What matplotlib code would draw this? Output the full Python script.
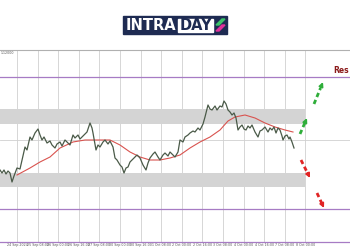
import numpy as np
import matplotlib.pyplot as plt
from matplotlib.patches import Rectangle, Polygon

# price path (bar index, close)
bar_idx = [0, 2, 4, 6, 8, 10, 12, 14, 17, 20, 22, 25, 27, 30, 32, 35, 38, 40, 42, 44,
           47, 50, 52, 55, 57, 60, 62, 65, 68, 70, 73, 75, 78, 80, 82, 85, 87, 90, 92, 93,
           96, 98, 100, 103, 105, 108, 110, 113, 115, 117, 120, 122, 124, 126, 128, 130,
           132, 135, 137, 140, 143, 146, 148, 150, 153, 155, 158, 160, 163, 165, 168, 170,
           173, 175, 178, 180, 183, 185, 188, 190, 193, 195, 198, 200, 203, 205, 208, 210,
           212, 215, 217, 220, 222, 224, 226, 228, 230, 232, 234, 236, 238, 240, 242, 244,
           246, 248, 250, 252, 255, 258, 260, 262, 265, 268, 270, 272, 274, 276, 278, 280,
           282, 283, 285, 287, 289, 290, 292, 294]
close = [1.1080, 1.1077, 1.1080, 1.1076, 1.1079, 1.1077, 1.1068, 1.1074, 1.1082, 1.1081,
         1.1090, 1.1103, 1.1100, 1.1113, 1.1110, 1.1117, 1.1121, 1.1115, 1.1110, 1.1113,
         1.1107, 1.1109, 1.1105, 1.1102, 1.1106, 1.1108, 1.1104, 1.1110, 1.1107, 1.1105,
         1.1115, 1.1112, 1.1115, 1.1111, 1.1113, 1.1116, 1.1118, 1.1127, 1.1122, 1.1117,
         1.1100, 1.1105, 1.1103, 1.1108, 1.1110, 1.1106, 1.1109, 1.1103, 1.1092, 1.1090,
         1.1085, 1.1083, 1.1077, 1.1082, 1.1083, 1.1088, 1.1090, 1.1093, 1.1095, 1.1092,
         1.1085, 1.1080, 1.1087, 1.1092, 1.1096, 1.1098, 1.1093, 1.1090, 1.1095, 1.1097,
         1.1094, 1.1098, 1.1095, 1.1093, 1.1098, 1.1110, 1.1108, 1.1113, 1.1115, 1.1117,
         1.1119, 1.1118, 1.1122, 1.1120, 1.1126, 1.1133, 1.1145, 1.1141, 1.1140, 1.1144,
         1.1140, 1.1144, 1.1143, 1.1149, 1.1146, 1.1140, 1.1138, 1.1135, 1.1137, 1.1132,
         1.1120, 1.1123, 1.1125, 1.1121, 1.1120, 1.1124, 1.1122, 1.1125, 1.1118, 1.1113,
         1.1119, 1.1120, 1.1123, 1.1118, 1.1122, 1.1120, 1.1123, 1.1117, 1.1122, 1.1120,
         1.1114, 1.1110, 1.1114, 1.1115, 1.1111, 1.1113, 1.1108, 1.1102]

# moving average
ma_idx = [17, 30, 40, 50, 60, 73, 85, 100, 110, 120, 130, 140, 150, 160, 170, 180,
          190, 200, 210, 220, 228, 235, 245, 255, 265, 275, 285, 293]
ma_val = [1.1075, 1.1082, 1.1088, 1.1093, 1.1102, 1.1108, 1.1110, 1.1110, 1.1110, 1.1105,
          1.1098, 1.1093, 1.1090, 1.1090, 1.1092, 1.1095, 1.1102, 1.1108, 1.1113, 1.1120,
          1.1129, 1.1133, 1.1135, 1.1132, 1.1127, 1.1123, 1.1120, 1.1118]

# levels and zones
resistance = 1.1173
support = 1.1041
bottom_level = 1.1008
upper_zone = (1.1126, 1.1141)
lower_zone = (1.1063, 1.1077)
grid_price = 1.1110

date_labels = ["24 Sep 2024", "25 Sep 08:00", "26 Sep 00:00", "26 Sep 16:00", "27 Sep 08:00",
               "30 Sep 00:00", "30 Sep 16:00", "1 Oct 08:00", "2 Oct 00:00", "2 Oct 16:00",
               "3 Oct 08:00", "4 Oct 00:00", "4 Oct 16:00", "7 Oct 08:00", "8 Oct 00:00"]
date_pos = [17 + 20.6 * k for k in range(15)]

# forecast arrows (start bar, start price, end bar, end price)
green_arrows = [(300, 1.1116, 307, 1.1132), (314, 1.1146, 323, 1.1168)]
red_arrows = [(301, 1.1090, 310, 1.1072), (317, 1.1057, 324, 1.1042)]


def dashed_arrow(ax, x0, y0, x1, y1, color):
    # dashed shaft + solid head
    xm = x0 + 0.72 * (x1 - x0)
    ym = y0 + 0.72 * (y1 - y0)
    ax.plot([x0, xm], [y0, ym], color=color, lw=2.0, ls=(0, (1.6, 1.1)),
            solid_capstyle='butt', zorder=5)
    ax.annotate('', xy=(x1, y1), xytext=(xm, ym),
                arrowprops=dict(arrowstyle='-|>', color=color, lw=1.3,
                                mutation_scale=6, shrinkA=0, shrinkB=0), zorder=5)


fig = plt.figure(figsize=(3.5, 2.5), dpi=100)
ax = fig.add_axes([0, 0.032, 1, 0.768])
ax.set_xlim(0, 350)
ax.set_ylim(bottom_level, 1.1200)

for x in date_pos:
    ax.axvline(x, color='#d0d0d0', lw=0.6, zorder=0)
ax.axhline(grid_price, color='#d0d0d0', lw=0.6, zorder=0)

ax.axhspan(upper_zone[0], upper_zone[1], xmin=0, xmax=305 / 350, color='#d4d4d4', lw=0, zorder=1)
ax.axhspan(lower_zone[0], lower_zone[1], xmin=0, xmax=305 / 350, color='#d4d4d4', lw=0, zorder=1)

ax.axhline(resistance, color='#a77bc4', lw=0.9, zorder=2)
ax.axhline(support, color='#a77bc4', lw=0.9, zorder=2)

ax.plot(ma_idx, ma_val, color='#d9534f', lw=0.8, zorder=3)
ax.plot(bar_idx, close, color='#4a5a48', lw=0.9, zorder=4)

for x0, y0, x1, y1 in green_arrows:
    dashed_arrow(ax, x0, y0, x1, y1, '#2fae3a')
for x0, y0, x1, y1 in red_arrows:
    dashed_arrow(ax, x0, y0, x1, y1, '#e02424')

ax.text(349, resistance + 0.0002, 'Res', color='#8b1a1a', fontsize=5.5,
        fontweight='bold', va='bottom', ha='right')

for s in ['left', 'right']:
    ax.spines[s].set_visible(False)
ax.spines['top'].set_color('#b0b0b0')
ax.spines['top'].set_linewidth(0.8)
ax.spines['bottom'].set_color('#a77bc4')
ax.spines['bottom'].set_linewidth(0.9)
ax.set_yticks([])
ax.set_xticks(date_pos)
ax.set_xticklabels(date_labels, fontsize=2.3, color='#555555', ha='center')
ax.tick_params(axis='x', length=0, pad=1)
ax.text(1, 1.11985, '1.12000', fontsize=2.3, color='#555555', va='top', ha='left')

# logo
navy = '#1e2b52'
fig.patches.append(Rectangle((123 / 350, 1 - 34 / 250), 104 / 350, 18 / 250,
                             transform=fig.transFigure, color=navy, zorder=5))
fig.patches.append(Rectangle((178 / 350, 1 - 31.5 / 250), 35 / 350, 12.5 / 250,
                             transform=fig.transFigure, color='white', zorder=6))
fig.text(151 / 350, 1 - 25.5 / 250, 'INTRA', color='white', fontsize=10.5,
         fontweight='bold', ha='center', va='center', zorder=7)
fig.text(195.5 / 350, 1 - 25.5 / 250, 'DAY', color=navy, fontsize=10.5,
         fontweight='bold', ha='center', va='center', zorder=7)
fig.patches.append(Polygon([(216 / 350, 1 - 25 / 250), (222 / 350, 1 - 19 / 250),
                            (225 / 350, 1 - 19 / 250), (219 / 350, 1 - 25 / 250)],
                           closed=True, transform=fig.transFigure, color='#3cc46a', zorder=7))
fig.patches.append(Polygon([(216 / 350, 1 - 31 / 250), (222 / 350, 1 - 25 / 250),
                            (225 / 350, 1 - 25 / 250), (219 / 350, 1 - 31 / 250)],
                           closed=True, transform=fig.transFigure, color='#e0309a', zorder=7))

fig.savefig('out.png', dpi=100)
